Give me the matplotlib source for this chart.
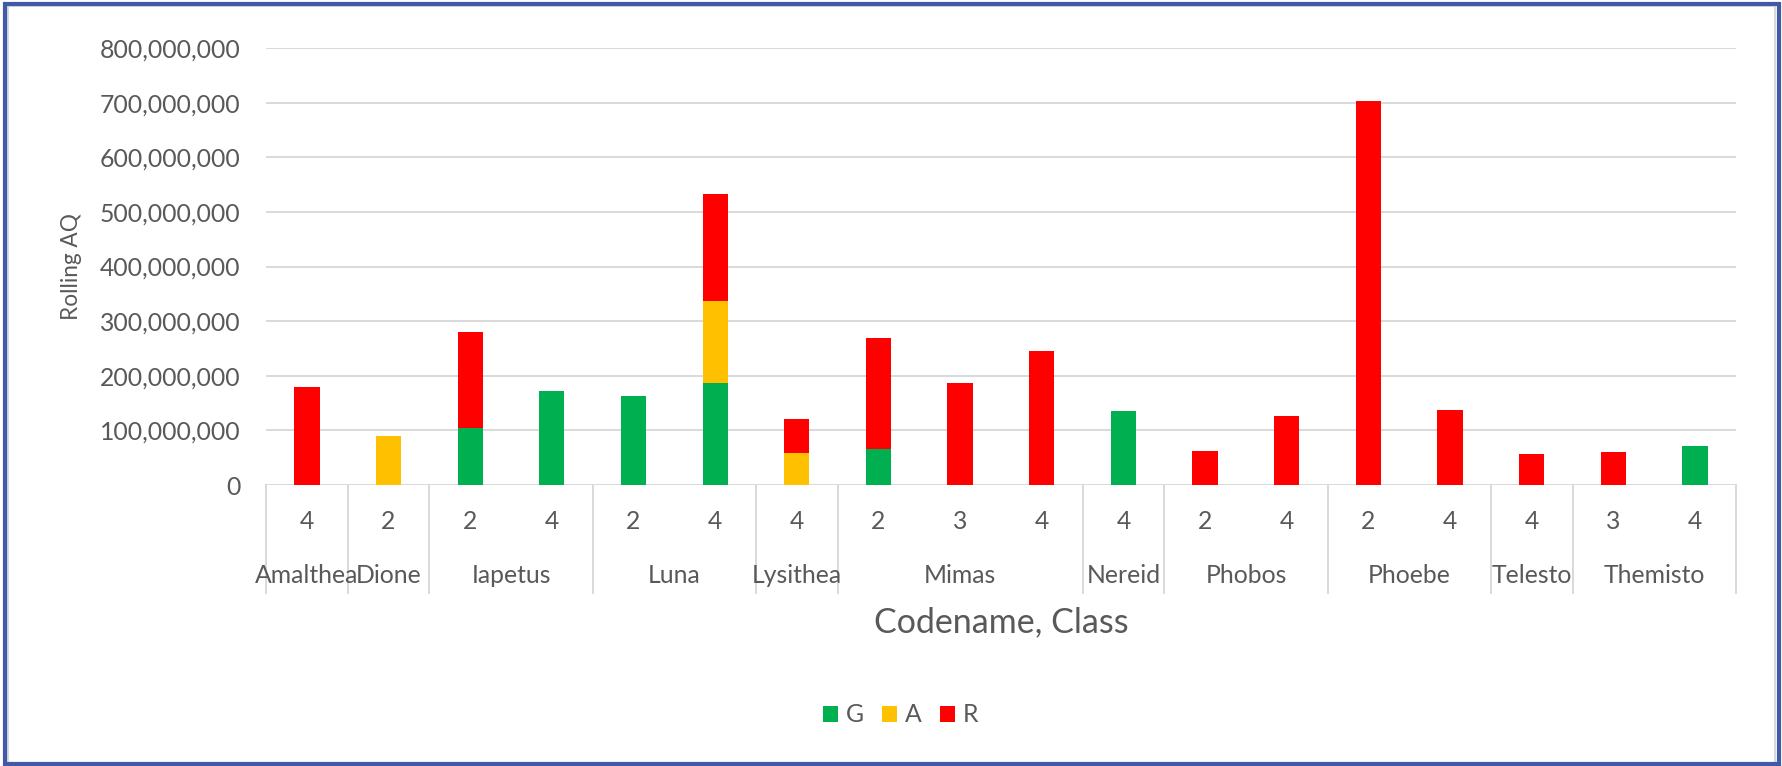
import matplotlib
matplotlib.use("Agg")
import matplotlib.pyplot as plt
from matplotlib.patches import Rectangle
from matplotlib.ticker import FuncFormatter
from itertools import groupby

# data (values in units of AQ)
codenames = ['Amalthea', 'Dione', 'Iapetus', 'Iapetus', 'Luna', 'Luna', 'Lysithea',
             'Mimas', 'Mimas', 'Mimas', 'Nereid', 'Phobos', 'Phobos', 'Phoebe',
             'Phoebe', 'Telesto', 'Themisto', 'Themisto']
classes = ['4', '2', '2', '4', '2', '4', '4', '2', '3', '4', '4', '2', '4', '2',
           '4', '4', '3', '4']
g_vals = [0, 0, 105e6, 172e6, 163e6, 187e6, 0, 66e6, 0, 0, 136e6, 0, 0, 0, 0, 0, 0, 72e6]
a_vals = [0, 90e6, 0, 0, 0, 149e6, 59e6, 0, 0, 0, 0, 0, 0, 0, 0, 0, 0, 0]
r_vals = [180e6, 0, 175e6, 0, 0, 197e6, 61e6, 203e6, 187e6, 245e6, 0, 63e6, 126e6,
          703e6, 138e6, 57e6, 60e6, 0]

plt.rcParams['font.family'] = ['Lato', 'DejaVu Sans']
txt = '#595959'
grid = '#D9D9D9'

fig = plt.figure(figsize=(17.83, 7.66), dpi=100)
ax = fig.add_axes([0.1492, 0.3668, 0.8244, 0.5705])

x = list(range(len(classes)))
w = 0.31
bottom_a = [g for g in g_vals]
bottom_r = [g + a for g, a in zip(g_vals, a_vals)]
ax.bar(x, g_vals, width=w, color='#00B050', label='G', zorder=3)
ax.bar(x, a_vals, width=w, bottom=bottom_a, color='#FFC000', label='A', zorder=3)
ax.bar(x, r_vals, width=w, bottom=bottom_r, color='#FF0000', label='R', zorder=3)

ax.set_xlim(-0.5, len(classes) - 0.5)
ax.set_ylim(0, 800e6)
ax.set_yticks([i * 100e6 for i in range(9)])
ax.yaxis.set_major_formatter(FuncFormatter(lambda v, p: '{:,.0f}'.format(v)))
ax.tick_params(axis='y', length=0, pad=18.5, labelsize=17.8, labelcolor=txt)
ax.set_xticks([])
ax.grid(axis='y', color=grid, linewidth=1.4, zorder=0)
for s in ax.spines.values():
    s.set_visible(False)

ax.set_ylabel('Rolling AQ', fontsize=16.3, color=txt, labelpad=13)

# class labels and codename groups under the axis
trans = ax.get_xaxis_transform()
for i, c in enumerate(classes):
    ax.text(i, -0.084, c, transform=trans, ha='center', va='center',
            fontsize=17.8, color=txt)

start = 0
edges = [-0.5]
for name, grp in groupby(codenames):
    n = len(list(grp))
    ax.text(start + (n - 1) / 2, -0.206, name, transform=trans, ha='center',
            va='center', fontsize=17.8, color=txt)
    start += n
    edges.append(start - 0.5)
for e in edges:
    ax.plot([e, e], [0, -0.247], transform=trans, color=grid, linewidth=1.4,
            clip_on=False)

ax.text(0.5, -0.315, 'Codename, Class', transform=ax.transAxes, ha='center',
        va='center', fontsize=24.5, color=txt)

fig.legend(loc='center', bbox_to_anchor=(0.505, 0.0666), ncol=3, frameon=False,
           fontsize=17.8, labelcolor=txt, handlelength=0.62, handleheight=0.62,
           handletextpad=0.3, columnspacing=0.75)

# chart frame
fig.patches.append(Rectangle((0.0045, 0.0045), 0.9910, 0.9880, transform=fig.transFigure,
                             fill=False, edgecolor=grid, linewidth=1.5))
fig.patches.append(Rectangle((0.0030, 0.0020), 0.9950, 0.9930, transform=fig.transFigure,
                             fill=False, edgecolor='#3F5AA8', linewidth=3))

fig.savefig('out.png', dpi=100)
